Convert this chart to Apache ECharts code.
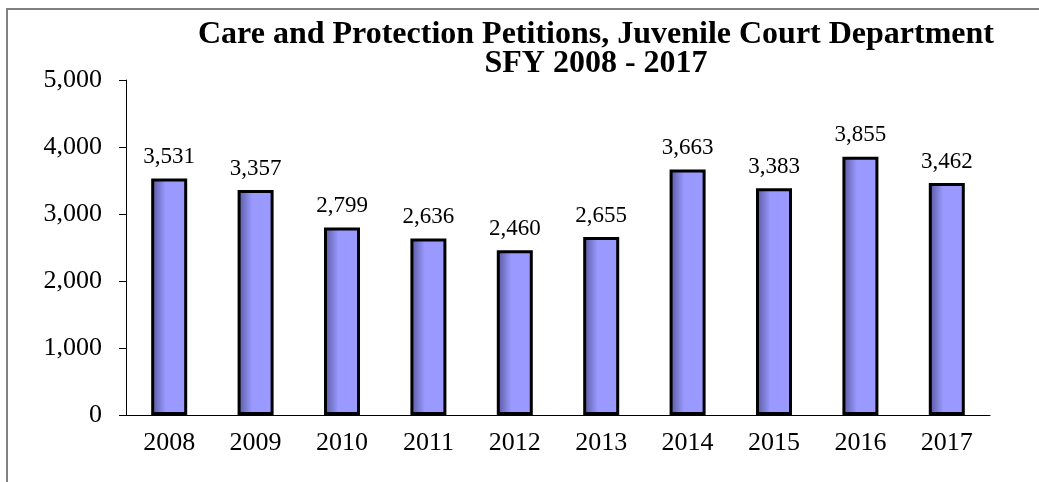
<!DOCTYPE html>
<html>
<head>
    <meta charset="UTF-8"/>
    <script src="https://cdn.jsdelivr.net/npm/echarts@6/dist/echarts.min.js"></script>
    <title>Care and Protection Petitions</title>
    <style>
        html, body { margin: 0; padding: 0; background: #fff; }
        #chart { width: 1039px; height: 482px; }
    </style>
</head>
<body>
<div id="chart"></div>
<script>
    // 数据
    var years = ['2008', '2009', '2010', '2011', '2012', '2013', '2014', '2015', '2016', '2017'];
    var petitions = [3531, 3357, 2799, 2636, 2460, 2655, 3663, 3383, 3855, 3462];
    var yTicks = [0, 1000, 2000, 3000, 4000, 5000];

    var serif = '"Liberation Serif", "Times New Roman", serif';
    function fmt(v) {
        return String(v).replace(/\B(?=(\d{3})+(?!\d))/g, ',');
    }

    var chart = echarts.init(document.getElementById('chart'));
    var option = {
        animation: false,
        title: {
            text: 'Care and Protection Petitions, Juvenile Court Department\nSFY 2008 - 2017',
            left: 591,
            top: 15,
            textAlign: 'center',
            textStyle: {
                fontFamily: serif,
                fontWeight: 'bold',
                fontSize: 32,
                lineHeight: 29,
                color: '#000'
            }
        },
        graphic: [{
            type: 'rect',
            shape: { x: 7, y: 9, width: 1200, height: 700 },
            style: { fill: 'none', stroke: '#808080', lineWidth: 2 },
            silent: true
        }],
        grid: { left: 126, right: 49, top: 80, bottom: 67 },
        xAxis: {
            type: 'category',
            data: years,
            axisLine: { lineStyle: { color: '#000', width: 1 } },
            axisTick: { length: 8, lineStyle: { color: '#000' } },
            axisLabel: { color: '#000', fontFamily: serif, fontSize: 26, margin: 15 }
        },
        yAxis: {
            type: 'value',
            min: yTicks[0],
            max: yTicks[yTicks.length - 1],
            interval: yTicks[1] - yTicks[0],
            splitLine: { show: false },
            axisLine: { show: true, lineStyle: { color: '#000', width: 1 } },
            axisTick: { show: true, length: 7, lineStyle: { color: '#000' } },
            axisLabel: { color: '#000', fontFamily: serif, fontSize: 26, margin: 24, formatter: fmt }
        },
        series: [{
            type: 'bar',
            data: petitions,
            barWidth: 36,
            itemStyle: {
                color: new echarts.graphic.LinearGradient(0, 0, 1, 0, [
                    { offset: 0, color: '#55559a' },
                    { offset: 0.4, color: '#9999ff' },
                    { offset: 1, color: '#9999ff' }
                ]),
                borderColor: '#000',
                borderWidth: 3
            },
            label: {
                show: true,
                position: 'top',
                distance: 10,
                color: '#000',
                fontFamily: serif,
                fontSize: 23,
                formatter: function (p) { return fmt(p.value); }
            }
        }]
    };
    chart.setOption(option);
</script>
</body>
</html>
